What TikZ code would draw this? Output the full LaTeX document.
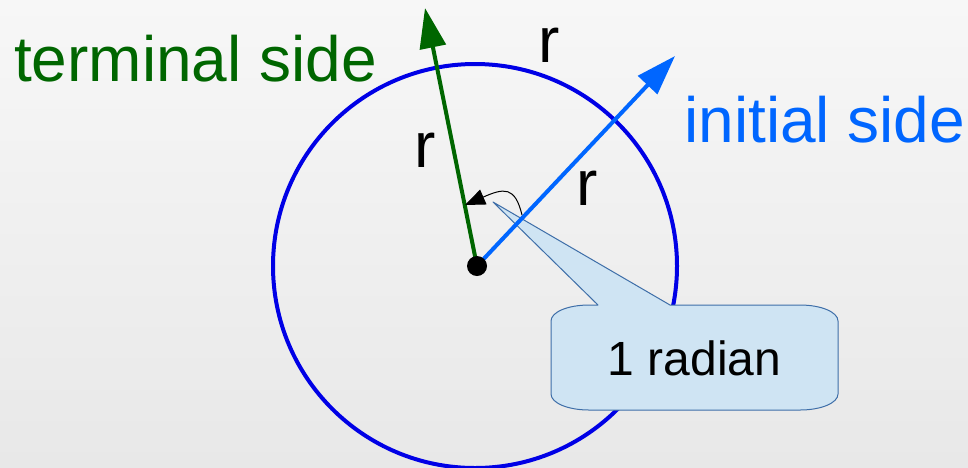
\documentclass[tikz,border=0pt]{standalone}
\usepackage{fontspec}
\setmainfont{Liberation Sans}
\usetikzlibrary{arrows.meta}
\definecolor{termgreen}{HTML}{006600}
\definecolor{initblue}{HTML}{0066FF}
\definecolor{circblue}{HTML}{0000E6}
\definecolor{callfill}{HTML}{CFE4F3}
\definecolor{callline}{HTML}{3E6EA8}
\definecolor{bgtop}{HTML}{F7F7F7}
\definecolor{bgbot}{HTML}{E8E8E8}
\tikzset{
  bigtext/.style={font=\fontsize{64}{70}\selectfont, inner sep=0pt, anchor=base},
  rlabel/.style={font=\fontsize{64}{70}\selectfont, inner sep=0pt, anchor=base, text=black},
  ray/.style={line width=4pt, -{Triangle[length=40pt,width=26pt]}},
  callout/.style={fill=callfill, draw=callline, line width=1pt, line join=round},
}
\begin{document}
\begin{tikzpicture}[x=1pt,y=-1pt]
\shade[top color=bgtop, bottom color=bgbot] (0,0) rectangle (968,467);
\useasboundingbox (0,0) rectangle (968,467);

% circle
\draw[circblue, line width=4pt] (475,266) circle[radius=202];

% callout
\path[callout] (598,305) -- (493,202) -- (670,305) -- (800,305)
  .. controls (821,305) and (838,312) .. (838,321) -- (838,394)
  .. controls (838,403) and (821,410) .. (800,410) -- (589,410)
  .. controls (568,410) and (551,403) .. (551,394) -- (551,321)
  .. controls (551,312) and (568,305) .. (589,305) -- cycle;
\node[font=\fontsize{48}{52}\selectfont, inner sep=0pt, anchor=base] (cal) at (694.5,375) {1 radian};

% rays
\coordinate (O) at (477,266);
\coordinate (T) at (425,8);
\coordinate (I) at (675,56);
\draw[ray, termgreen] (O) -- (T);
\draw[ray, initblue] (O) -- (I);

% small angle arrow
\coordinate (a1) at (522,215);
\coordinate (a2) at (465,205);
\draw[line width=1pt, -{Triangle[length=20pt,width=16pt]}] (a1) .. controls (515,186) and (504,188) .. (a2);

% center dot
\fill[black] (O) circle[radius=10];

% labels
\node[bigtext, text=termgreen, anchor=base west] (term) at (14,81) {terminal side};
\node[bigtext, text=initblue, anchor=base west] (init) at (684,142) {initial side};
\node[rlabel] (r1) at (549,62) {r};
\node[rlabel] (r2) at (425,167) {r};
\node[rlabel] (r3) at (587,205) {r};
\end{tikzpicture}
\end{document}
